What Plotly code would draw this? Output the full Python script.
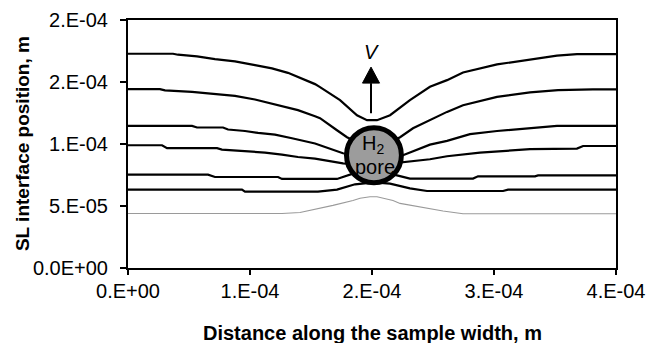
import plotly.graph_objects as go

# ---- data (x, y in metres) ----
line1_x = [0, 0.369e-4, 0.410e-4, 0.566e-4, 0.713e-4, 0.877e-4, 1.041e-4, 1.180e-4, 1.311e-4, 1.451e-4, 1.533e-4,
           1.574e-4, 1.738e-4, 1.877e-4, 1.959e-4, 2.041e-4, 2.148e-4, 2.311e-4, 2.475e-4, 2.615e-4, 2.746e-4,
           3.025e-4, 3.295e-4, 3.516e-4, 3.680e-4, 4.0e-4]
line1_y = [1.728e-4, 1.728e-4, 1.720e-4, 1.707e-4, 1.685e-4, 1.666e-4, 1.636e-4, 1.610e-4, 1.574e-4, 1.515e-4, 1.483e-4,
           1.459e-4, 1.354e-4, 1.232e-4, 1.192e-4, 1.192e-4, 1.232e-4, 1.354e-4, 1.461e-4, 1.515e-4, 1.577e-4,
           1.642e-4, 1.682e-4, 1.712e-4, 1.725e-4, 1.725e-4]

line2_x = [0, 0.262e-4, 0.303e-4, 0.525e-4, 0.656e-4, 0.877e-4, 1.041e-4, 1.230e-4, 1.393e-4, 1.533e-4, 1.574e-4,
           1.713e-4, 1.795e-4, 2.016e-4, 2.230e-4, 2.336e-4, 2.500e-4, 2.615e-4, 2.746e-4, 3.025e-4, 3.295e-4,
           3.525e-4, 3.811e-4, 4.0e-4]
line2_y = [1.443e-4, 1.443e-4, 1.432e-4, 1.421e-4, 1.408e-4, 1.388e-4, 1.359e-4, 1.313e-4, 1.273e-4, 1.224e-4, 1.208e-4,
           1.111e-4, 1.055e-4, 0.949e-4, 1.055e-4, 1.127e-4, 1.208e-4, 1.259e-4, 1.313e-4, 1.380e-4, 1.416e-4,
           1.434e-4, 1.441e-4, 1.441e-4]

line3_x = [0, 0.525e-4, 0.566e-4, 0.779e-4, 0.820e-4, 0.959e-4, 1.066e-4, 1.205e-4, 1.344e-4, 1.451e-4, 1.533e-4,
           1.762e-4, 2.016e-4, 2.254e-4, 2.475e-4, 2.615e-4, 2.803e-4, 3.025e-4, 3.295e-4, 3.516e-4, 4.0e-4]
line3_y = [1.146e-4, 1.146e-4, 1.133e-4, 1.133e-4, 1.117e-4, 1.105e-4, 1.089e-4, 1.076e-4, 1.046e-4, 1.022e-4, 1.004e-4,
           0.925e-4, 0.885e-4, 0.909e-4, 0.995e-4, 1.025e-4, 1.079e-4, 1.105e-4, 1.125e-4, 1.146e-4, 1.146e-4]

line4_x = [0, 0.279e-4, 0.320e-4, 0.730e-4, 0.770e-4, 0.934e-4, 1.123e-4, 1.262e-4, 1.393e-4, 1.533e-4, 1.762e-4,
           2.016e-4, 2.254e-4, 2.475e-4, 2.615e-4, 2.885e-4, 3.295e-4, 3.680e-4, 3.730e-4, 4.0e-4]
line4_y = [0.990e-4, 0.990e-4, 0.966e-4, 0.966e-4, 0.955e-4, 0.944e-4, 0.931e-4, 0.915e-4, 0.895e-4, 0.882e-4, 0.844e-4,
           0.828e-4, 0.853e-4, 0.877e-4, 0.901e-4, 0.931e-4, 0.958e-4, 0.963e-4, 0.984e-4, 0.984e-4]

line5_x = [0, 0.656e-4, 0.713e-4, 1.230e-4, 1.262e-4, 1.713e-4, 1.844e-4, 2.016e-4, 2.205e-4, 2.311e-4, 2.828e-4,
           2.869e-4, 3.336e-4, 3.361e-4, 4.0e-4]
line5_y = [0.753e-4, 0.753e-4, 0.734e-4, 0.734e-4, 0.718e-4, 0.718e-4, 0.761e-4, 0.788e-4, 0.747e-4, 0.721e-4, 0.721e-4,
           0.739e-4, 0.739e-4, 0.747e-4, 0.747e-4]

line6_x = [0, 0.934e-4, 0.959e-4, 1.557e-4, 1.713e-4, 1.861e-4, 2.016e-4, 2.148e-4, 2.311e-4, 2.451e-4, 3.074e-4,
           3.115e-4, 4.0e-4]
line6_y = [0.632e-4, 0.632e-4, 0.616e-4, 0.616e-4, 0.632e-4, 0.675e-4, 0.691e-4, 0.680e-4, 0.642e-4, 0.621e-4, 0.621e-4,
           0.632e-4, 0.632e-4]

line7_x = [0, 1.262e-4, 1.410e-4, 1.533e-4, 1.680e-4, 1.844e-4, 1.902e-4, 1.984e-4, 2.041e-4, 2.172e-4, 2.230e-4,
           2.582e-4, 2.746e-4, 4.0e-4]
line7_y = [0.440e-4, 0.440e-4, 0.448e-4, 0.473e-4, 0.505e-4, 0.545e-4, 0.562e-4, 0.574e-4, 0.574e-4, 0.545e-4, 0.521e-4,
           0.459e-4, 0.438e-4, 0.438e-4]

x_tickvals = [0, 1e-4, 2e-4, 3e-4, 4e-4]
x_ticktext = ["0.E+00", "1.E-04", "2.E-04", "3.E-04", "4.E-04"]
y_tickvals = [0, 0.5e-4, 1.0e-4, 1.5e-4, 2.0e-4]
y_ticktext = ["0.0E+00", "5.E-05", "1.E-04", "2.E-04", "2.E-04"]

# pore annotation geometry
pore_cx, pore_cy = 2.016e-4, 0.909e-4
pore_rx, pore_ry = 0.225e-4, 0.222e-4
arrow_x = 1.992e-4
arrow_tail_y, arrow_base_y, arrow_tip_y = 1.248e-4, 1.491e-4, 1.620e-4
arrow_half_w = 0.07e-4

FONT = "Liberation Sans, Arial, sans-serif"

fig = go.Figure()
thick = [(line1_x, line1_y), (line2_x, line2_y), (line3_x, line3_y), (line4_x, line4_y),
         (line5_x, line5_y), (line6_x, line6_y)]
for xs, ys in thick:
    fig.add_trace(go.Scatter(x=xs, y=ys, mode="lines", line=dict(color="black", width=2.2),
                             showlegend=False, hoverinfo="skip"))
fig.add_trace(go.Scatter(x=line7_x, y=line7_y, mode="lines", line=dict(color="#9a9a9a", width=1.1),
                         showlegend=False, hoverinfo="skip"))

shapes = [
    dict(type="circle", xref="x", yref="y", layer="above",
         x0=pore_cx - pore_rx, x1=pore_cx + pore_rx, y0=pore_cy - pore_ry, y1=pore_cy + pore_ry,
         fillcolor="#9c9c9c", line=dict(color="black", width=5)),
    dict(type="line", xref="x", yref="y", layer="above",
         x0=arrow_x, x1=arrow_x, y0=arrow_tail_y, y1=arrow_base_y, line=dict(color="black", width=2)),
    dict(type="path", xref="x", yref="y", layer="above",
         path=f"M {arrow_x - arrow_half_w},{arrow_base_y} L {arrow_x + arrow_half_w},{arrow_base_y} "
              f"L {arrow_x},{arrow_tip_y} Z",
         fillcolor="black", line=dict(color="black", width=1)),
]

annotations = [
    dict(x=pore_cx - 0.01e-4, y=pore_cy + 0.085e-4, xref="x", yref="y", text="H<sub>2</sub>",
         showarrow=False, font=dict(family=FONT, size=20, color="black")),
    dict(x=pore_cx + 0.01e-4, y=pore_cy - 0.095e-4, xref="x", yref="y", text="pore",
         showarrow=False, font=dict(family=FONT, size=20, color="black")),
    dict(x=arrow_x + 0.005e-4, y=1.744e-4, xref="x", yref="y", text="<i>V</i>",
         showarrow=False, font=dict(family=FONT, size=20, color="black")),
    dict(x=0.5, y=-0.262, xref="paper", yref="paper", text="<b>Distance along the sample width, m</b>",
         showarrow=False, font=dict(family=FONT, size=20, color="black"), yanchor="middle"),
    dict(x=-0.217, y=0.5, xref="paper", yref="paper", text="<b>SL interface position, m</b>",
         showarrow=False, textangle=-90, font=dict(family=FONT, size=19, color="black"), xanchor="center"),
]

fig.update_layout(
    width=646, height=343,
    margin=dict(l=128, r=30, t=20, b=75),
    paper_bgcolor="white", plot_bgcolor="white",
    font=dict(family=FONT, color="black"),
    shapes=shapes, annotations=annotations,
    showlegend=False,
)
fig.update_xaxes(range=[0, 4e-4], tickvals=x_tickvals, ticktext=x_ticktext, automargin=False,
                 showgrid=False, zeroline=False, showline=True, mirror=True,
                 linecolor="black", linewidth=2, ticks="outside", ticklen=5, tickwidth=1.5,
                 tickcolor="black", tickfont=dict(family=FONT, size=20), ticklabelstandoff=-1)
fig.update_yaxes(range=[0, 2e-4], tickvals=y_tickvals, ticktext=y_ticktext, automargin=False,
                 showgrid=False, zeroline=False, showline=True, mirror=True,
                 linecolor="black", linewidth=2, ticks="outside", ticklen=6, tickwidth=1.5,
                 tickcolor="black", tickfont=dict(family=FONT, size=20), ticklabelstandoff=8)

fig.write_html("out.html")
